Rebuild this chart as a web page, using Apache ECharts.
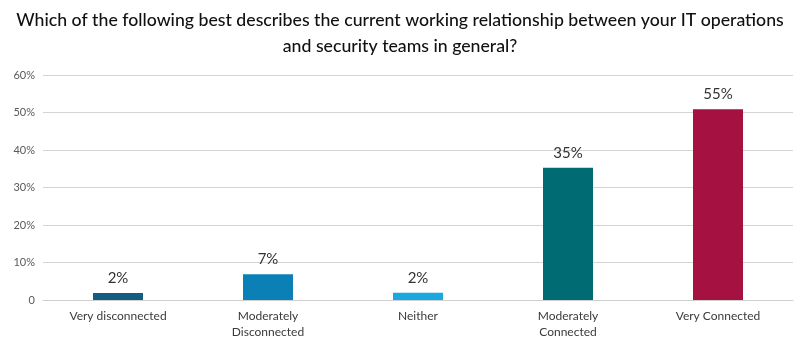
<!DOCTYPE html>
<html><head><meta charset="utf-8">
<script src="https://cdn.jsdelivr.net/npm/echarts@6/dist/echarts.min.js"></script>
<style>html,body{margin:0;padding:0;background:#fff}#c{width:800px;height:350px}</style>
</head><body><div id="c"></div>
<script>
const categories = ['Very disconnected', 'Moderately\nDisconnected', 'Neither', 'Moderately\nConnected', 'Very Connected'];
const values = [1.9, 6.9, 1.95, 35.3, 50.9];
const valueLabels = ['2%', '7%', '2%', '35%', '55%'];
const colors = ['#135c82', '#0b80b6', '#19a9e0', '#006b73', '#a51242'];
const titleText = 'Which of the following best describes the current working relationship between your IT operations\nand security teams in general?';

const chart = echarts.init(document.getElementById('c'));
chart.setOption({
  animation: false,
  title: {
    text: titleText, left: 'center', top: 2,
    textStyle: { fontFamily: 'Lato', fontSize: 17.7, fontWeight: 500, color: '#111', lineHeight: 26 }
  },
  grid: { left: 43, right: 7, top: 75, bottom: 50 },
  xAxis: {
    type: 'category', data: categories,
    axisLine: { lineStyle: { color: '#cfcfcf' } },
    axisTick: { show: false },
    axisLabel: { color: '#3a3a3a', fontFamily: 'Lato', fontSize: 12, lineHeight: 16, margin: 8, interval: 0 }
  },
  yAxis: {
    type: 'value', min: 0, max: 60, interval: 10,
    axisLabel: { color: '#595959', fontFamily: 'Lato', fontSize: 11, margin: 8,
      formatter: v => v === 0 ? '0' : v + '%' },
    splitLine: { lineStyle: { color: '#d4d4d4', width: 1 } },
    axisLine: { show: false }, axisTick: { show: false }
  },
  series: [{
    type: 'bar', barWidth: 50,
    data: values.map((v, i) => ({ value: v, itemStyle: { color: colors[i] } })),
    label: { show: true, position: 'top', distance: 7, color: '#333', fontFamily: 'Lato', fontSize: 15,
      formatter: p => valueLabels[p.dataIndex] }
  }]
});
</script></body></html>
